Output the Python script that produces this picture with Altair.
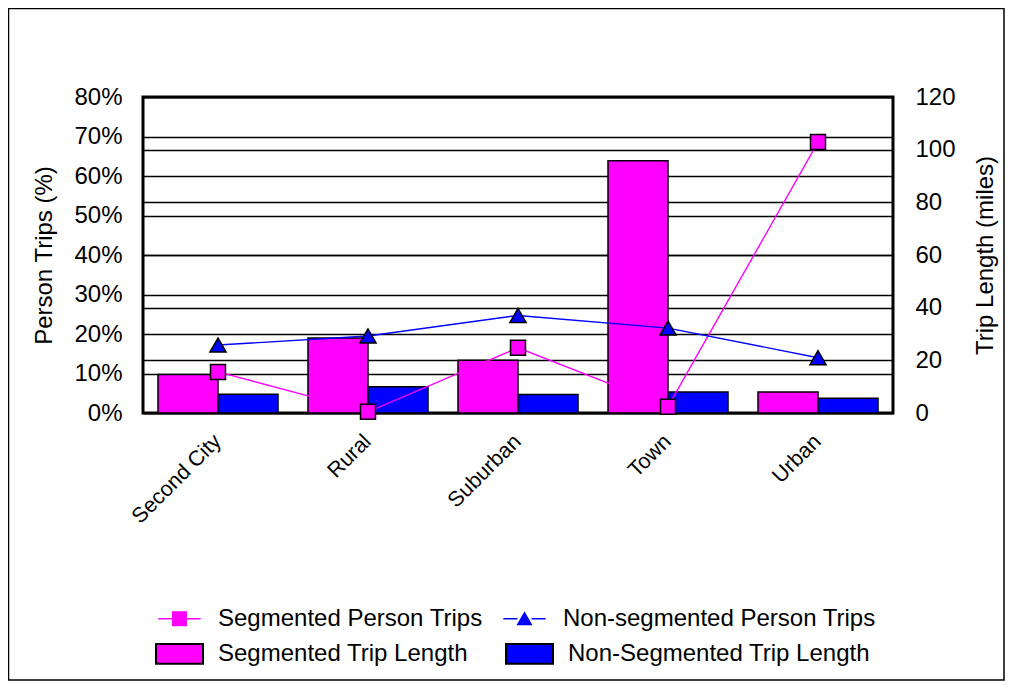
import altair as alt
import pandas as pd

# ---------------- data ----------------
categories = ["Second City", "Rural", "Suburban", "Town", "Urban"]
seg_trips = [10.4, 0.3, 16.5, 1.6, 68.6]          # % (left axis)
nonseg_trips = [17.2, 19.5, 24.7, 21.5, 14.0]     # % (left axis)
seg_len = [14.6, 28.5, 20.0, 95.8, 8.0]           # miles (right axis)
nonseg_len = [7.1, 10.0, 7.0, 8.0, 5.6]           # miles (right axis)

line_names = ["Segmented Person Trips", "Non-segmented Person Trips"]
bar_names = ["Segmented Trip Length", "Non-Segmented Trip Length"]
left_ticks = [0, 10, 20, 30, 40, 50, 60, 70, 80]
right_ticks = [0, 20, 40, 60, 80, 100, 120]

MAGENTA = "#FF00FF"
BLUE = "#0000FF"
FONT = "Liberation Sans"

lines_df = pd.DataFrame({
    "category": categories * 2,
    "series": [line_names[0]] * len(categories) + [line_names[1]] * len(categories),
    "value": seg_trips + nonseg_trips,
})
bars_df = pd.DataFrame({
    "category": categories * 2,
    "series": [bar_names[0]] * len(categories) + [bar_names[1]] * len(categories),
    "value": seg_len + nonseg_len,
})

# ---------------- shared encodings ----------------
x_enc = alt.X(
    "category:N", sort=categories,
    scale=alt.Scale(domain=categories, paddingInner=0.2, paddingOuter=0.1),
    axis=alt.Axis(title=None, labelAngle=-45, labelAlign="right", labelBaseline="middle",
                  labelFontSize=21.5, labelPadding=25, ticks=False, domain=False, grid=False),
)

grid_common = dict(grid=True, gridColor="black", gridWidth=1.3, ticks=False, tickSize=0,
                   domain=False, labelFontSize=24, titleFontSize=24, titleAngle=270,
                   titleAlign="center", titleBaseline="middle", titleY=158)

left_scale = alt.Scale(domain=[0, 80], nice=False)
y_left = alt.Y("value:Q", scale=left_scale,
               axis=alt.Axis(orient="left", values=left_ticks, labelExpr="datum.value + '%'",
                             title="Person Trips (%)", labelPadding=21, titleX=-99, **grid_common))
y_left_noaxis = alt.Y("value:Q", scale=left_scale, axis=None)

y_right = alt.Y("value:Q", scale=alt.Scale(domain=[0, 120], nice=False),
                axis=alt.Axis(orient="right", values=right_ticks, title="Trip Length (miles)",
                              labelPadding=22, titleX=92, **grid_common))

# ---------------- legends ----------------
legend_common = dict(title=None, orient="none", legendX=12, direction="horizontal", columns=2,
                     symbolSize=2209, labelFont=FONT, labelFontSize=24, labelColor="black",
                     labelOffset=14, labelLimit=600, padding=0, symbolOpacity=1)

# coloured line segments of the line legend (labels hidden, same layout)
leg_line_strokes = alt.Legend(legendY=497, columnPadding=17, symbolType="M-0.9,0H-0.3M0.3,0H0.9",
                              symbolStrokeWidth=1.5, labelExpr="trim(datum.label)", labelOpacity=0,
                              **legend_common)
# markers of the line legend (black outlined) + labels
leg_line_marks = alt.Legend(legendY=497, columnPadding=17, symbolStrokeColor="black",
                            symbolStrokeWidth=1.5, **legend_common)
leg_bars = alt.Legend(legendY=532, columnPadding=34, symbolType="M-1,-0.42H1V0.42H-1Z",
                      symbolStrokeColor="black", symbolStrokeWidth=2, **legend_common)

square_path = "M-0.32,-0.32H0.32V0.32H-0.32Z"
tri_path = "M0,-0.32L0.34,0.28H-0.34Z"

# ---------------- layers ----------------
bars = alt.Chart(bars_df).mark_bar(stroke="black", strokeWidth=1.5).encode(
    x=x_enc,
    xOffset=alt.XOffset("series:N", sort=bar_names,
                        scale=alt.Scale(domain=bar_names, paddingInner=0, paddingOuter=0)),
    y=y_right,
    color=alt.Color("series:N", scale=alt.Scale(domain=bar_names, range=[MAGENTA, BLUE]),
                    legend=leg_bars),
)

seg_line = alt.Chart(lines_df).transform_filter(
    alt.datum.series == line_names[0]
).mark_line(strokeWidth=1.4, color=MAGENTA).encode(x=x_enc, y=y_left)

nonseg_line = alt.Chart(lines_df).transform_filter(
    alt.datum.series == line_names[1]
).mark_line(strokeWidth=1.4, color=BLUE).encode(x=x_enc, y=y_left_noaxis)

squares = alt.Chart(lines_df).transform_filter(
    alt.datum.series == line_names[0]
).mark_square(size=225, filled=True, fill=MAGENTA, stroke="black", strokeWidth=1.5, opacity=1).encode(
    x=x_enc, y=y_left_noaxis,
)

triangles = alt.Chart(lines_df).transform_filter(
    alt.datum.series == line_names[1]
).mark_point(shape="triangle-up", size=260, filled=True, fill=BLUE, stroke="black",
             strokeWidth=1.5, opacity=1).encode(
    x=x_enc, y=y_left_noaxis,
)

# invisible points carrying the line legend: first the coloured strokes...
stroke_names = [n + " " for n in line_names]
legend_strokes = alt.Chart(lines_df).transform_calculate(
    series_s="datum.series + ' '"
).mark_point(filled=False, opacity=0, strokeWidth=1.5).encode(
    x=x_enc, y=y_left_noaxis,
    stroke=alt.Stroke("series_s:N", scale=alt.Scale(domain=stroke_names, range=[MAGENTA, BLUE]),
                      legend=leg_line_strokes),
)
# ...then the black-outlined markers with the labels
legend_marks = alt.Chart(lines_df).mark_point(
    filled=True, opacity=0, stroke="black", strokeWidth=1.5
).encode(
    x=x_enc, y=y_left_noaxis,
    fill=alt.Fill("series:N", scale=alt.Scale(domain=line_names, range=[MAGENTA, BLUE]),
                  legend=leg_line_marks),
    shape=alt.Shape("series:N", scale=alt.Scale(domain=line_names, range=[square_path, tri_path]),
                    legend=leg_line_marks),
)

frame = alt.Chart(pd.DataFrame({"k": [0]})).mark_rect(
    filled=False, stroke="black", strokeWidth=1.5
).encode(x=alt.value(-134.5), x2=alt.value(861), y=alt.value(-88.5), y2=alt.value(583))

chart = alt.layer(
    bars, seg_line, nonseg_line, squares, triangles, legend_strokes, legend_marks, frame
).resolve_scale(
    y="independent"
).properties(
    width=750, height=316,
    autosize=alt.AutoSizeParams(type="none"),
    padding={"left": 135, "top": 89, "right": 112, "bottom": 269},
).configure_view(
    stroke="black", strokeWidth=3
).configure_axis(
    labelFont=FONT, titleFont=FONT, labelColor="black", titleColor="black",
    titleFontWeight="normal",
)

chart.save("out.html", embed_options={"renderer": "svg", "actions": False})
